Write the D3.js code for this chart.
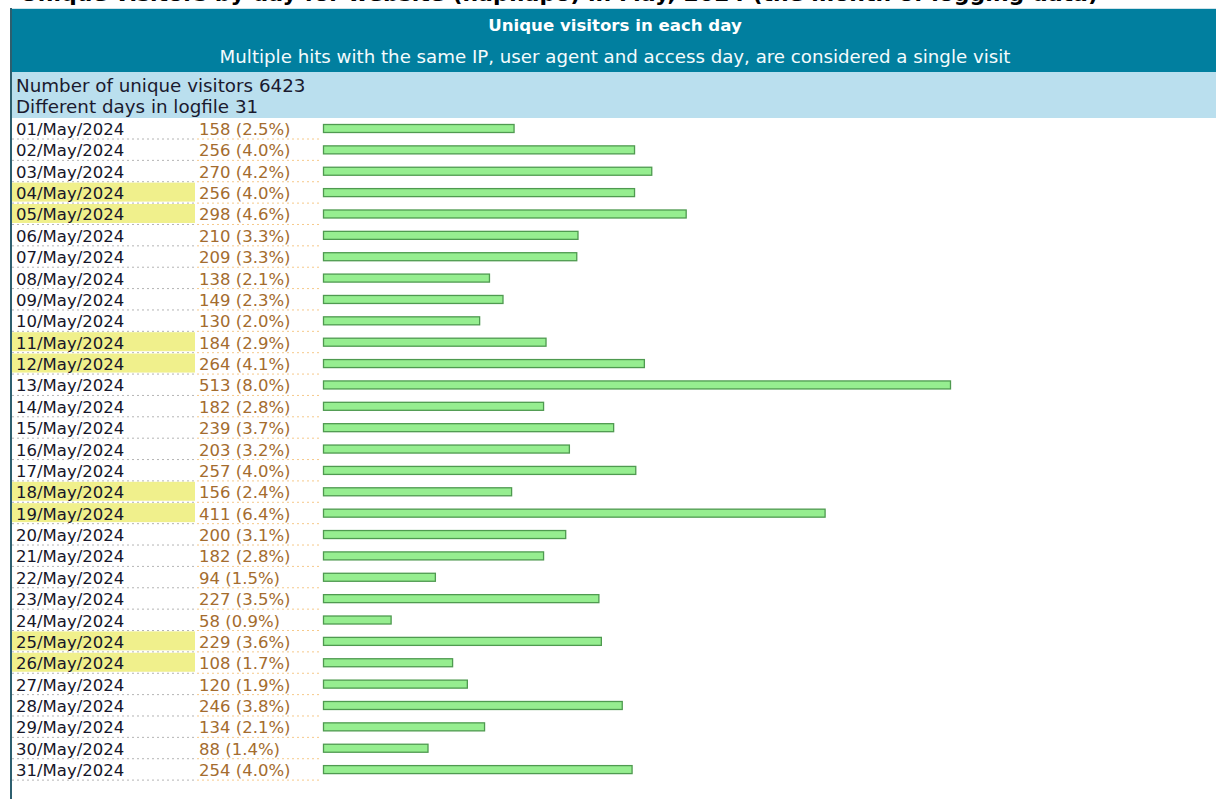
<!DOCTYPE html>
<meta charset="utf-8">
<style>
  body { margin: 0; background: #fff; }
  text { font-family: "DejaVu Sans", Verdana, sans-serif; }
</style>
<body>
<script src="https://d3js.org/d3.v7.min.js"></script>
<script>
// day labels, visitors per day, weekend days
var days = ["01/May/2024","02/May/2024","03/May/2024","04/May/2024","05/May/2024","06/May/2024",
  "07/May/2024","08/May/2024","09/May/2024","10/May/2024","11/May/2024","12/May/2024",
  "13/May/2024","14/May/2024","15/May/2024","16/May/2024","17/May/2024","18/May/2024",
  "19/May/2024","20/May/2024","21/May/2024","22/May/2024","23/May/2024","24/May/2024",
  "25/May/2024","26/May/2024","27/May/2024","28/May/2024","29/May/2024","30/May/2024","31/May/2024"];
var visitors = [158,256,270,256,298,210,209,138,149,130,184,264,513,182,239,203,257,156,411,200,
  182,94,227,58,229,108,120,246,134,88,254];
var weekend = ["04/May/2024","05/May/2024","11/May/2024","12/May/2024","18/May/2024","19/May/2024",
  "25/May/2024","26/May/2024"];

var title = "Unique visitors in each day";
var subtitle = "Multiple hits with the same IP, user agent and access day, are considered a single visit";
var total = 6423;

var W = 1216, H = 799;
var fs = 16.5;

var svg = d3.select("body").append("svg")
    .attr("width", W)
    .attr("height", H);

// page heading, cut off at the top edge
svg.append("text")
    .attr("x", 20).attr("y", 1)
    .attr("font-size", 22).attr("font-weight", "bold")
    .attr("fill", "#000")
    .text("Unique visitors by day for website (hap.lapo) in May, 2024 (the month of logging data)");

// header
svg.append("rect").attr("x", 11).attr("y", 8).attr("width", W).attr("height", 64).attr("fill", "#017f9f");
svg.append("line").attr("x1", 11).attr("x2", W).attr("y1", 8.5).attr("y2", 8.5).attr("stroke", "#cfe3ea");
svg.append("text").attr("x", 615).attr("y", 31).attr("text-anchor", "middle")
    .attr("font-size", 16.6).attr("font-weight", "bold").attr("fill", "#fff").text(title);
svg.append("text").attr("x", 615).attr("y", 63).attr("text-anchor", "middle")
    .attr("font-size", 18.2).attr("fill", "#f4fbfd").text(subtitle);

// summary band
svg.append("rect").attr("x", 11).attr("y", 72).attr("width", W).attr("height", 46).attr("fill", "#badfee");
svg.append("text").attr("x", 16).attr("y", 92).attr("font-size", 18.3).attr("fill", "#1a1a2e")
    .text("Number of unique visitors " + total);
svg.append("text").attr("x", 16).attr("y", 113).attr("font-size", 18.3).attr("fill", "#1a1a2e")
    .text("Different days in logfile " + days.length);

// scales
var y = d3.scaleBand().domain(days).range([118, 118 + days.length * 21.37]);
var x = d3.scaleLinear().domain([3, d3.max(visitors)]).range([0, 627]);
var pct = d3.format(".1f");

var rows = svg.selectAll("g.row")
    .data(days.map(function(d, i) { return {day: d, v: visitors[i]}; }))
    .enter().append("g")
    .attr("class", "row")
    .attr("transform", function(d) { return "translate(0," + y(d.day) + ")"; });

rows.filter(function(d) { return weekend.indexOf(d.day) >= 0; })
    .append("rect")
    .attr("x", 12).attr("y", 0.5).attr("width", 183).attr("height", 19)
    .attr("fill", "#f0f08c");

rows.append("line")
    .attr("x1", 12).attr("x2", 195).attr("y1", 21).attr("y2", 21)
    .attr("stroke", "#b4b4b4").attr("stroke-dasharray", "2,3");
rows.append("line")
    .attr("x1", 197).attr("x2", 322).attr("y1", 21).attr("y2", 21)
    .attr("stroke", "#f6c98a").attr("stroke-dasharray", "2,3");

rows.append("text")
    .attr("x", 16).attr("y", 17)
    .attr("font-size", fs).attr("fill", "#161629")
    .text(function(d) { return d.day; });
rows.append("text")
    .attr("x", 199).attr("y", 17)
    .attr("font-size", fs).attr("fill", "#a46c2e")
    .text(function(d) { return d.v + " (" + pct(d.v / total * 100) + "%)"; });

rows.append("rect")
    .attr("x", 323.5).attr("y", 6.5)
    .attr("width", function(d) { return x(d.v); })
    .attr("height", 8)
    .attr("fill", "#96ee90")
    .attr("stroke", "#4f9a50")
    .attr("stroke-width", 1.3);

// left border of the table
svg.append("line").attr("x1", 11).attr("x2", 11).attr("y1", 8).attr("y2", H)
    .attr("stroke", "#2d5f6f").attr("stroke-width", 2);
</script>
</body>
